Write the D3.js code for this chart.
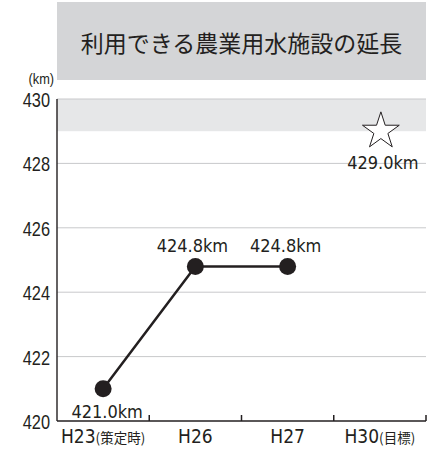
<!DOCTYPE html>
<html>
<head>
<meta charset="utf-8">
<script src="https://cdn.jsdelivr.net/npm/d3@7"></script>
<style>
  body { margin: 0; background: #fff; }
  svg { display: block; }
</style>
</head>
<body>
<svg id="chart" width="432" height="450"></svg>
<script>
const title = "利用できる農業用水施設の延長";
const categories = ["H23", "H26", "H27", "H30"];
const categoryNotes = ["(策定時)", "", "", "(目標)"];
const values = [421.0, 424.8, 424.8];
const targetValue = 429.0;
const yTicks = [420, 422, 424, 426, 428, 430];

const margin = {top: 99, right: 6, bottom: 29, left: 57};
const width = 432 - margin.left - margin.right;
const height = 450 - margin.top - margin.bottom;
const ink = "#231f20";

const svg = d3.select("#chart");

// title box
svg.append("rect")
  .attr("x", margin.left).attr("y", 2)
  .attr("width", width).attr("height", 78)
  .attr("fill", "#d4d5d7");
svg.append("text")
  .attr("x", margin.left + width / 2).attr("y", 52)
  .attr("text-anchor", "middle")
  .attr("font-family", "Noto Sans CJK JP")
  .attr("font-size", 23)
  .attr("fill", ink)
  .text(title);

const g = svg.append("g").attr("transform", `translate(${margin.left},${margin.top})`);

const x = d3.scaleBand().domain(categories).range([0, width]);
const y = d3.scaleLinear().domain([420, 430]).range([height, 0]);

// target band
g.append("rect")
  .attr("x", 0).attr("y", y(430))
  .attr("width", width).attr("height", y(429) - y(430))
  .attr("fill", "#e6e7e8");

// grid
g.selectAll(".grid").data(yTicks.filter(d => d > 420)).enter()
  .append("line")
  .attr("x1", 0).attr("x2", width)
  .attr("y1", d => y(d)).attr("y2", d => y(d))
  .attr("stroke", "#c8c9cb").attr("stroke-width", 1);

// y axis labels (condensed look via horizontal scale)
g.append("text")
  .attr("transform", `translate(-3,${y(430) - 15}) scale(0.85,1)`)
  .attr("text-anchor", "end")
  .attr("font-family", "Liberation Sans")
  .attr("font-size", 15)
  .attr("fill", ink)
  .text("(km)");

g.selectAll(".ytick").data(yTicks).enter()
  .append("text")
  .attr("transform", d => `translate(-7,${y(d) + 8}) scale(0.78,1)`)
  .attr("text-anchor", "end")
  .attr("font-family", "Liberation Sans")
  .attr("font-size", 21)
  .attr("fill", ink)
  .text(d => d);

// axes lines
g.append("line").attr("x1", 0).attr("x2", 0).attr("y1", 0).attr("y2", height)
  .attr("stroke", ink).attr("stroke-width", 1.4);
g.append("line").attr("x1", 0).attr("x2", width).attr("y1", height).attr("y2", height)
  .attr("stroke", ink).attr("stroke-width", 1.5);

// x ticks at band boundaries
const bounds = categories.map(c => x(c) + x.bandwidth());
g.selectAll(".xtick").data(bounds).enter()
  .append("line")
  .attr("x1", d => d).attr("x2", d => d)
  .attr("y1", height).attr("y2", height - 6)
  .attr("stroke", ink).attr("stroke-width", 1.5);

// x labels
const xl = g.selectAll(".xlab").data(categories).enter()
  .append("text")
  .attr("x", d => x(d) + x.bandwidth() / 2)
  .attr("y", height + 22)
  .attr("text-anchor", "middle")
  .attr("font-family", "DejaVu Sans Condensed")
  .attr("font-size", 19)
  .attr("fill", ink);
xl.append("tspan").text(d => d);
xl.append("tspan")
  .attr("font-family", "Noto Sans CJK JP")
  .attr("font-size", 13.5)
  .text((d, i) => categoryNotes[i]);

// line + points
const cx = (d, i) => x(categories[i]) + x.bandwidth() / 2;
const line = d3.line().x(cx).y(d => y(d));
g.append("path").datum(values)
  .attr("d", line)
  .attr("fill", "none")
  .attr("stroke", ink).attr("stroke-width", 2.5);

g.selectAll(".pt").data(values).enter()
  .append("circle")
  .attr("cx", cx).attr("cy", d => y(d)).attr("r", 8.5)
  .attr("fill", ink);

const labelShift = [4, -3, -2];
g.selectAll(".vlab").data(values).enter()
  .append("text")
  .attr("x", (d, i) => cx(d, i) + labelShift[i])
  .attr("y", (d, i) => i === 0 ? y(d) + 29 : y(d) - 14)
  .attr("text-anchor", "middle")
  .attr("font-family", "DejaVu Sans Condensed")
  .attr("font-size", 18)
  .attr("fill", ink)
  .text(d => d.toFixed(1) + "km");

// target star
const tx = x(categories[3]) + x.bandwidth() / 2;
const star = d3.symbol().type(d3.symbolStar).size(420);
g.append("path")
  .attr("d", star())
  .attr("transform", `translate(${tx + 1},${y(targetValue)})`)
  .attr("fill", "#fff").attr("stroke", ink).attr("stroke-width", 1);
g.append("text")
  .attr("x", tx + 3).attr("y", y(targetValue) + 38)
  .attr("text-anchor", "middle")
  .attr("font-family", "DejaVu Sans Condensed")
  .attr("font-size", 18)
  .attr("fill", ink)
  .text(targetValue.toFixed(1) + "km");
</script>
</body>
</html>
